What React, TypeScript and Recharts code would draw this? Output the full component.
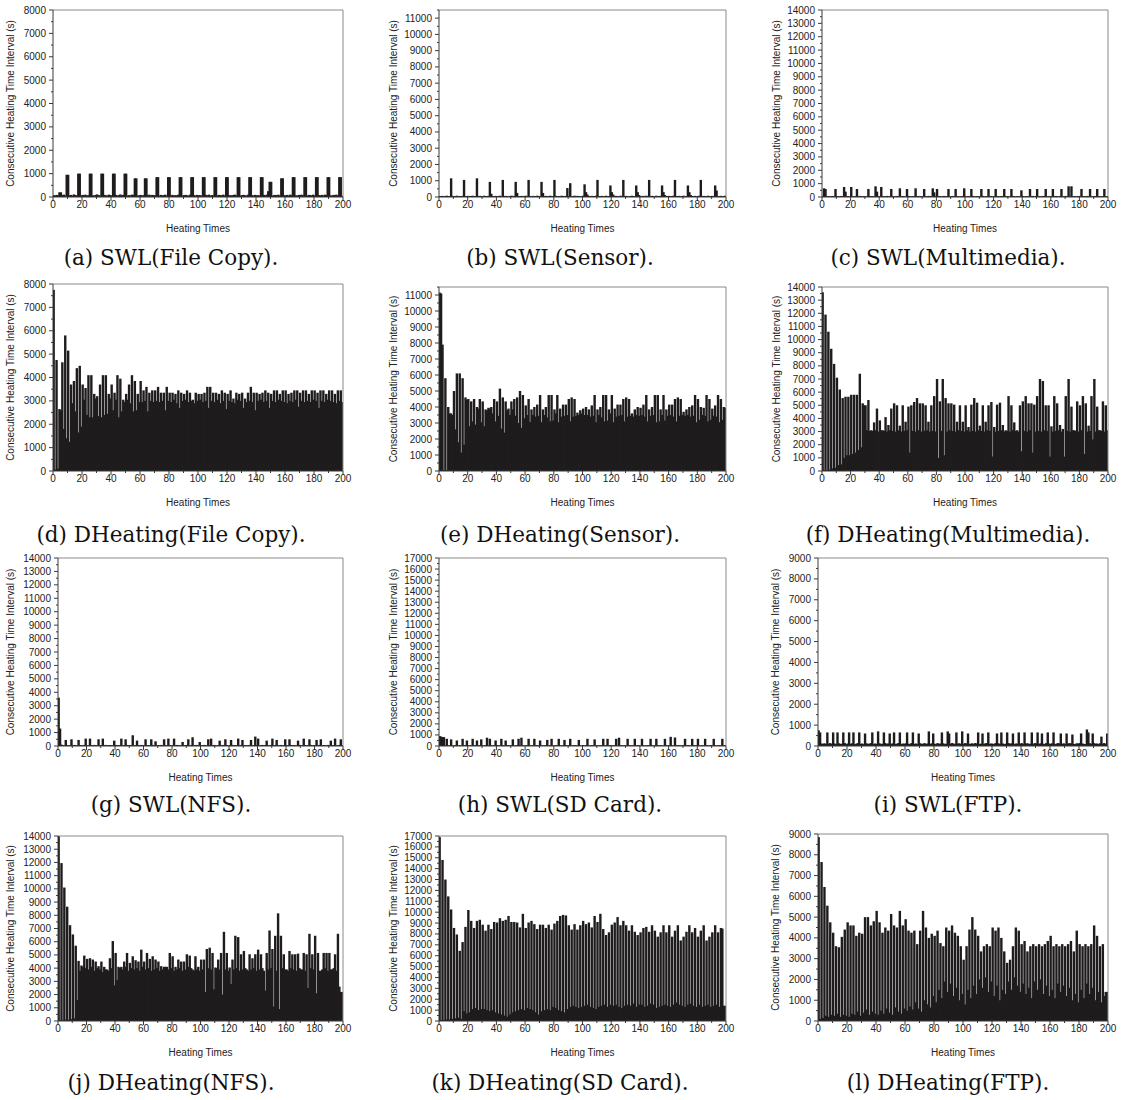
import React from "react";
import { BarChart, Bar, XAxis, YAxis, ReferenceLine } from "recharts";

const AXIS = "#3a3a3a";
const FRAME = "#8a8a8a";
const BAR = "#1f1c1d";
const TEXT = "#222222";
const FONT = "'Liberation Sans', Arial, sans-serif";
const SERIF = "'DejaVu Serif', serif";
const BAR_W = 2.4;

// x ticks (Heating Times)
const xTicks = [0, 10, 20, 30, 40, 50, 60, 70, 80, 90, 100, 110, 120, 130, 140, 150, 160, 170, 180, 190, 200];
const xLabelTicks = [0, 20, 40, 60, 80, 100, 120, 140, 160, 180, 200];

// y major ticks
const yMajor8000 = [0, 1000, 2000, 3000, 4000, 5000, 6000, 7000, 8000];
const yMajor9000 = [0, 1000, 2000, 3000, 4000, 5000, 6000, 7000, 8000, 9000];
const yMajor11000 = [0, 1000, 2000, 3000, 4000, 5000, 6000, 7000, 8000, 9000, 10000, 11000];
const yMajor14000 = [0, 1000, 2000, 3000, 4000, 5000, 6000, 7000, 8000, 9000, 10000, 11000, 12000, 13000, 14000];
const yMajor17000 = [0, 1000, 2000, 3000, 4000, 5000, 6000, 7000, 8000, 9000, 10000, 11000, 12000, 13000, 14000, 15000, 16000, 17000];

// ---------- SWL series (200 heatings each) ----------
const swlFileCopy = [
  80,60,90,70,200,200,80,100,60,950,950,70,90,60,110,80,70,1000,1000,60,
  90,70,100,60,80,1000,1000,70,60,90,110,80,60,1000,1000,90,70,60,100,80,
  70,1000,1000,90,60,80,110,70,90,1000,1000,60,80,70,100,90,800,800,60,70,
  90,60,80,800,800,70,100,60,90,80,70,850,850,60,90,70,80,100,60,850,
  850,70,90,60,80,70,100,850,850,60,80,90,70,60,100,850,850,80,60,90,
  70,80,60,850,850,90,70,100,60,80,70,850,850,60,90,80,70,100,60,850,
  850,70,80,60,90,100,70,850,850,60,80,90,70,60,100,850,850,80,60,90,
  70,80,60,850,850,90,70,100,250,650,650,60,80,90,70,100,60,800,800,80,
  70,90,60,100,80,850,850,70,60,90,80,100,70,850,850,60,90,80,70,100,
  60,850,850,80,70,90,60,100,80,850,850,70,60,90,80,100,70,850,850,60,
];

const swlSensor = [
  60,50,70,40,60,80,50,60,1150,70,50,60,80,40,60,50,70,1050,60,50,
  70,40,60,80,50,60,1150,50,70,60,40,80,60,50,70,930,200,60,50,70,
  40,60,80,50,1050,60,70,50,40,60,80,50,70,930,250,60,40,70,50,60,
  80,50,1050,60,40,70,60,50,80,60,40,930,250,50,70,60,40,80,50,60,
  1050,70,50,60,40,80,60,50,70,550,60,850,40,60,80,50,70,60,40,50,
  80,780,300,150,60,50,70,40,60,80,1050,50,60,70,40,60,80,50,60,710,
  300,150,50,70,60,40,80,50,1050,60,70,50,40,60,80,50,60,710,300,120,
  60,50,70,40,80,60,1050,50,70,60,40,80,50,60,70,710,300,120,50,60,
  70,40,60,80,1050,50,60,70,40,60,80,50,60,710,300,120,60,50,70,40,
  60,80,1050,50,70,60,40,80,50,60,70,40,710,400,60,50,70,40,60,80,
];

const swlMultimedia = [
  60,650,600,50,70,40,60,80,50,600,60,70,40,80,50,750,400,60,70,50,
  750,60,40,70,600,50,80,60,40,70,50,60,600,80,50,70,40,800,400,60,
  50,750,70,40,60,80,50,60,600,70,40,60,80,50,650,60,70,40,50,600,
  80,60,40,70,50,650,60,80,40,70,50,600,60,40,80,70,50,650,350,60,
  600,50,70,40,60,80,50,70,600,40,60,80,50,600,70,40,60,50,80,650,
  60,40,70,50,600,80,60,40,70,50,60,600,80,40,50,70,600,60,80,40,
  50,600,70,60,40,80,50,600,60,70,40,50,600,80,60,40,70,50,60,500,
  80,40,60,70,50,600,60,80,40,70,600,50,60,40,80,70,600,50,60,40,
  70,600,50,80,60,40,70,600,50,60,80,40,800,60,800,50,70,40,60,80,
  50,600,60,70,40,80,50,600,60,40,70,80,600,50,60,40,70,600,50,60,
];

const swlNFS = [
  3600,1300,100,60,50,450,70,40,60,500,50,80,60,40,450,70,50,60,80,550,
  40,60,550,70,50,80,60,40,500,70,60,550,50,80,40,60,70,50,60,400,
  80,50,60,70,550,40,60,500,80,50,70,60,800,40,60,400,70,50,80,60,
  40,500,70,60,50,500,80,40,350,60,70,50,80,40,500,60,50,550,70,40,
  60,550,50,80,70,40,60,300,50,70,80,500,40,60,650,50,70,80,40,300,
  60,50,80,70,40,500,60,550,50,80,70,40,60,400,50,80,60,500,70,40,
  60,450,80,50,70,40,550,60,80,450,50,70,40,60,80,450,50,60,700,70,
  550,40,60,80,50,70,400,60,40,80,550,50,70,450,60,40,80,50,70,500,
  60,40,500,80,50,70,60,40,400,80,60,50,550,70,40,60,500,80,50,70,
  60,450,40,80,500,50,70,60,40,80,60,400,50,70,550,40,60,80,500,60,
];

const swlSDCard = [
  900,850,800,800,60,650,50,70,600,40,60,80,500,50,70,40,650,60,80,500,
  50,70,40,650,60,80,500,50,70,600,40,60,80,750,50,650,70,40,60,500,
  80,50,60,650,70,40,500,60,80,50,70,600,40,60,80,650,50,750,70,40,
  60,80,650,50,70,40,650,60,80,50,500,70,40,60,80,550,50,70,650,40,
  60,80,50,650,70,40,60,550,80,50,70,650,40,60,80,50,70,550,60,40,
  80,50,70,650,60,40,80,50,600,70,60,40,80,50,650,60,70,650,40,80,
  50,60,70,650,40,750,80,50,60,70,40,650,80,60,50,70,650,40,80,60,
  50,650,70,40,60,80,50,650,70,40,60,650,80,50,70,40,60,650,80,50,
  70,830,60,40,770,80,50,70,60,40,80,650,50,70,60,40,650,80,50,70,
  650,60,40,80,50,650,70,60,40,80,50,650,70,40,60,80,50,650,60,70,
];

const swlFTP = [
  750,650,120,100,130,90,650,110,140,100,650,120,90,650,130,100,110,650,140,90,
  120,650,100,130,650,90,110,140,650,100,120,90,600,130,100,110,140,650,90,120,
  100,700,130,90,110,650,140,100,120,600,90,130,650,100,110,140,650,90,120,100,
  130,650,110,90,140,650,100,120,90,600,130,110,100,140,90,120,700,100,130,600,
  110,90,140,100,120,650,130,90,110,700,600,100,140,120,90,650,110,130,100,700,
  90,140,120,600,100,110,130,90,140,120,650,100,110,600,90,130,140,650,100,120,
  110,90,140,600,130,100,650,120,90,110,650,140,100,130,600,90,120,110,650,100,
  140,90,650,120,130,100,110,650,90,140,120,650,100,130,600,110,90,140,650,120,
  100,130,650,90,110,140,120,600,100,130,90,600,110,140,120,550,100,90,130,110,
  140,600,120,100,90,790,650,130,110,600,140,100,120,90,130,450,110,140,100,600,
];

// ---------- DHeating series: long interval (odd heatings) / short interval (even heatings) ----------
const dhFileCopyLong = [
  7750,4750,2650,4650,5800,5150,3700,3850,4400,4500,
  3700,3550,4100,4100,3300,3200,3700,4100,4100,3300,
  3700,3350,4100,3950,3050,3300,3700,4100,3850,3300,
  3850,3450,3600,3350,3450,3450,3600,3350,3350,3600,
  3350,3350,3300,3450,3350,3300,3450,3350,3050,3350,
  3300,3300,3350,3600,3600,3350,3350,3300,3450,3350,
  3300,3450,3100,3350,3300,3350,3100,3350,3600,3350,
  3350,3300,3350,3450,3350,3300,3450,3450,3300,3450,
  3450,3300,3350,3450,3450,3350,3450,3450,3300,3450,
  3450,3350,3450,3450,3300,3450,3450,3300,3450,3450,
];
const dhFileCopyShort = [
  60,100,2600,1800,1400,1250,2900,2550,1650,1900,
  3050,2400,2300,2300,3100,2350,2300,2400,2450,3100,
  2600,3050,2300,2550,2950,3050,2900,2550,2600,2950,
  2950,3000,2550,3000,2950,3000,2950,3000,2600,3000,
  2950,3050,2900,2700,3000,3050,2950,3000,2900,3000,
  3050,2950,3000,2700,3000,2950,3050,2900,3000,2650,
  3000,2950,2900,3050,3000,2700,2950,3000,2950,2600,
  3000,3050,2950,3000,2700,3000,2950,3050,3000,2950,
  2900,3000,2950,3050,2750,3000,2950,3000,2950,3050,
  3000,2700,3000,2950,3050,3000,2950,2900,3000,2950,
];

const dhSensorLong = [
  11150,7900,5800,4000,3600,5000,6100,6100,5800,4600,
  4500,4350,4500,4000,4500,4350,3850,3950,4000,4500,
  4350,5150,4600,4350,3900,4350,4500,4600,5000,4750,
  4100,4500,3850,4000,4150,4750,3850,4000,4750,4750,
  3850,4750,3900,4150,4150,4500,4600,4500,3650,3800,
  3900,4000,3850,4100,4750,3850,4000,4750,4750,3850,
  4750,3900,4150,4150,4500,4600,4500,3600,3850,4000,
  3950,4150,4750,3850,4000,4750,4750,3850,4750,3850,
  4150,4150,4500,4600,4500,3700,3850,4000,4100,4750,
  4500,4000,3950,4750,4500,3900,4100,4750,4500,4000,
];
const dhSensorShort = [
  11100,50,50,3600,3500,2600,1800,1150,1650,4450,
  2800,3100,2900,3900,3050,2800,3800,3900,3600,3100,
  3450,2650,2400,3800,3500,3850,3450,3000,2700,3300,
  3500,3050,3500,3400,3450,3050,3500,3350,3100,3150,
  3600,3050,3400,3450,3500,3100,3400,3450,3500,3600,
  3500,3500,3400,3450,3050,3500,3350,3100,3150,3600,
  3050,3400,3450,3500,3100,3400,3450,3400,3500,3450,
  3500,3400,3100,3450,3500,3050,3100,3500,3150,3450,
  3500,3400,3100,3450,3500,3450,3500,3400,3450,3050,
  3200,3500,3450,3100,3200,3450,3400,3050,3200,3950,
];

const dhMultimediaLong = [
  13600,11900,10600,9300,8150,7100,6200,5550,5650,5650,
  5800,5800,5800,7400,5150,5000,5400,3100,3700,4750,
  3850,3100,4100,3500,4750,5150,5000,3450,5000,3750,
  4900,5000,5250,5550,5150,5150,5000,3750,5000,5700,
  7000,5300,7000,5550,5150,5150,5050,3750,5000,3750,
  5000,3350,5050,5550,5200,3450,5000,3750,5000,5250,
  3350,5050,5200,3500,3100,5700,5000,3700,3100,5000,
  5300,5700,5150,5150,5050,5700,7000,6850,5000,5000,
  3400,5700,5150,3500,3200,5700,7000,4900,3100,5300,
  5000,5700,5150,3450,5700,7000,4900,3100,5300,5000,
];
const dhMultimediaShort = [
  50,50,100,200,250,450,500,1000,1200,1200,
  1300,1400,1600,1800,5000,3100,3050,3050,3100,3000,
  3100,3050,3000,3100,3050,3000,3100,3000,3050,3100,
  1400,3050,3000,3100,3000,3050,3100,3000,3050,3000,
  1000,3050,1200,3000,3100,3050,3000,3100,3050,3000,
  3100,3000,3050,3000,3100,3050,3000,3100,3050,1100,
  3000,3050,3100,3000,3050,3000,3100,3050,3000,1500,
  3050,3000,3100,1400,3000,3050,3000,3100,3050,1100,
  3000,3050,3100,3000,1100,3050,3000,3100,3050,3000,
  3100,1300,3000,3050,2400,3000,3100,3050,3000,3100,
];

const dhNFSLong = [
  14000,11950,10100,8650,7250,6550,5700,4550,4200,4950,
  4700,4750,4650,4500,4150,4500,4100,3900,4750,6050,
  5150,4100,4100,4500,5150,4400,4900,4600,4500,5400,
  4500,5150,4700,4900,4650,4500,4150,4100,4100,5150,
  4900,4100,4650,4500,4500,5050,4950,3900,4900,4100,
  4650,4650,5450,5550,5150,4050,4650,5150,6750,5150,
  4050,4650,6450,6350,5050,5300,3900,5050,4750,5050,
  5400,5050,3800,5150,6850,5450,6450,8150,6450,5050,
  3900,5300,5050,5050,5100,3900,5150,5050,6600,5050,
  6450,5150,3800,5150,5150,5150,3900,5050,6600,2200,
];
const dhNFSShort = [
  50,50,100,100,150,200,1600,3800,4100,4000,
  3900,4100,3800,4000,3900,3700,3900,3800,4000,2700,
  3100,4000,3900,4100,3800,4000,3900,4000,3800,4100,
  3900,4000,3800,3900,4000,3800,3900,4100,3900,4000,
  3800,3900,4000,3800,3900,4100,4000,3800,3900,3800,
  3900,2200,4000,3900,2400,4000,3900,2000,3900,3800,
  2800,3900,4000,3800,3900,4000,3800,3900,4000,3800,
  3900,4000,2300,3900,4000,1100,3800,900,4000,3900,
  3800,4000,3900,3800,4000,3900,3800,2500,4000,3900,
  2100,3800,3900,4000,3800,3900,4000,3800,2600,2200,
];

const dhSDCardLong = [
  16900,14800,13000,11450,10250,8550,7950,6450,7250,8650,
  10200,9200,8550,9200,9300,8850,8300,8850,8450,9100,
  9050,9450,9200,9300,9650,9100,9100,9050,8600,9850,
  8550,9050,9200,8900,8450,8850,8850,8550,8850,8400,
  8950,9200,9650,9750,9700,8800,8400,8900,8400,8800,
  9200,8900,9050,8600,9650,9100,9850,8450,7900,8150,
  8850,9050,9550,8800,9200,8800,8300,8800,8200,7900,
  8150,8550,8650,8200,8800,8300,7750,8150,8800,8150,
  8800,7750,8300,8800,7400,7750,8200,8800,8150,8550,
  7750,8300,8800,7400,7750,8150,8800,8150,8550,1400,
];
const dhSDCardShort = [
  100,100,150,150,200,250,300,200,900,700,
  800,1100,1200,1000,1100,1100,1000,900,1000,800,
  700,600,500,400,600,800,900,1000,1100,1000,
  1200,1100,1000,800,600,900,1000,1100,1000,1300,
  1200,1000,900,800,1100,1300,1400,1300,1200,1300,
  1400,1500,1300,1200,1100,1300,1400,1500,1300,1500,
  1400,1500,1300,1200,1400,1500,1400,1600,1300,1500,
  1500,1300,1400,1600,1500,1200,1300,1400,1500,1400,
  1300,1500,1700,1500,1400,1300,1500,1600,1400,1300,
  1500,1300,1400,1500,1300,1400,1500,1300,8500,1400,
];

const dhFTPLong = [
  8850,7650,6450,5550,4750,4250,3600,3550,4050,4400,
  4750,4600,4600,4100,4250,4200,5000,5000,4600,4800,
  5300,4750,4250,4500,4350,5150,4600,4500,5300,4600,
  4900,4350,4250,4350,3700,4350,5300,4500,4000,4200,
  4100,4350,3750,3600,4500,4350,4600,4250,4100,3600,
  2950,3600,4400,5000,4400,4100,3350,3600,3700,3600,
  4500,4350,4500,4000,3350,2800,2950,3600,4500,4350,
  3700,3850,3350,3600,3700,3600,3700,3600,3700,3850,
  4100,3600,3700,3600,3700,3600,3700,3850,3350,4350,
  3700,3600,3700,3600,3700,4600,4100,3600,3700,1400,
];
const dhFTPShort = [
  100,150,250,200,300,250,350,200,300,250,
  200,350,300,450,250,400,550,300,450,350,
  300,500,350,600,400,300,650,450,350,600,
  500,700,550,900,600,450,1000,800,650,1200,
  900,1500,1100,1900,1400,1800,1200,1600,1000,1300,
  800,1500,1100,1700,1300,2000,1600,2100,1400,1900,
  1200,1700,1000,1500,1300,1900,1500,2100,1700,1400,
  1800,1300,1600,1100,1900,1500,2000,1300,1700,1200,
  1500,1100,1800,1400,1700,1200,1600,1000,1300,900,
  1500,1100,1800,1300,1600,1000,1400,900,1200,1400,
];

const interleave = (longs: number[], shorts: number[]) =>
  longs.flatMap((v, i) => [v, shorts[i]]);

type PanelCfg = {
  caption: string;
  values: number[];
  yMajor: number[];
  yMax: number;
  L: number; R: number; T: number; B: number;
  labelX: number;
  capX: number; capY: number;
};

const panels: PanelCfg[] = [
  { caption: "(a) SWL(File Copy).", values: swlFileCopy, yMajor: yMajor8000, yMax: 8000, L: 53, R: 343, T: 10, B: 197, labelX: 10, capX: 171, capY: 258 },
  { caption: "(b) SWL(Sensor).", values: swlSensor, yMajor: yMajor11000, yMax: 11500, L: 439, R: 726, T: 10, B: 197, labelX: 393, capX: 560, capY: 258 },
  { caption: "(c) SWL(Multimedia).", values: swlMultimedia, yMajor: yMajor14000, yMax: 14000, L: 822, R: 1108, T: 10, B: 197, labelX: 776, capX: 948, capY: 258 },
  { caption: "(d) DHeating(File Copy).", values: interleave(dhFileCopyLong, dhFileCopyShort), yMajor: yMajor8000, yMax: 8000, L: 53, R: 343, T: 284, B: 471, labelX: 10, capX: 171, capY: 535 },
  { caption: "(e) DHeating(Sensor).", values: interleave(dhSensorLong, dhSensorShort), yMajor: yMajor11000, yMax: 11500, L: 439, R: 726, T: 287, B: 471, labelX: 393, capX: 560, capY: 535 },
  { caption: "(f) DHeating(Multimedia).", values: interleave(dhMultimediaLong, dhMultimediaShort), yMajor: yMajor14000, yMax: 14000, L: 822, R: 1108, T: 287, B: 471, labelX: 776, capX: 948, capY: 535 },
  { caption: "(g) SWL(NFS).", values: swlNFS, yMajor: yMajor14000, yMax: 14000, L: 58, R: 343, T: 558, B: 746, labelX: 10, capX: 171, capY: 805 },
  { caption: "(h) SWL(SD Card).", values: swlSDCard, yMajor: yMajor17000, yMax: 17000, L: 439, R: 726, T: 558, B: 746, labelX: 393, capX: 560, capY: 805 },
  { caption: "(i) SWL(FTP).", values: swlFTP, yMajor: yMajor9000, yMax: 9000, L: 818, R: 1108, T: 558, B: 746, labelX: 775, capX: 948, capY: 805 },
  { caption: "(j) DHeating(NFS).", values: interleave(dhNFSLong, dhNFSShort), yMajor: yMajor14000, yMax: 14000, L: 58, R: 343, T: 836, B: 1021, labelX: 10, capX: 171, capY: 1083 },
  { caption: "(k) DHeating(SD Card).", values: interleave(dhSDCardLong, dhSDCardShort), yMajor: yMajor17000, yMax: 17000, L: 439, R: 726, T: 836, B: 1021, labelX: 393, capX: 560, capY: 1083 },
  { caption: "(l) DHeating(FTP).", values: interleave(dhFTPLong, dhFTPShort), yMajor: yMajor9000, yMax: 9000, L: 818, R: 1108, T: 834, B: 1021, labelX: 775, capX: 948, capY: 1083 },
];

const XTick = (props: any) => {
  const { x, y, payload } = props;
  const v = payload.value;
  const major = xLabelTicks.includes(v);
  return (
    <g>
      <line x1={x} x2={x} y1={y} y2={y + (major ? 4 : 2)} stroke={AXIS} strokeWidth={1} />
      {major && (
        <text x={x} y={y + 10.5} textAnchor="middle" fontSize={10} fontFamily={FONT} fill={TEXT}>
          {v}
        </text>
      )}
    </g>
  );
};

const makeYTick = (labelMax: number) => (props: any) => {
  const { x, y, payload } = props;
  const v = payload.value;
  const major = v % 1000 === 0 && v <= labelMax;
  return (
    <g>
      <line x1={x - (major ? 4 : 2)} x2={x} y1={y} y2={y} stroke={AXIS} strokeWidth={1} />
      {major && (
        <text x={x - 7} y={y} dy="0.35em" textAnchor="end" fontSize={10} fontFamily={FONT} fill={TEXT}>
          {v}
        </text>
      )}
    </g>
  );
};

const BarShape = (props: any) => {
  const { x, y, width, height } = props;
  if (!height || height <= 0) return <g />;
  return <rect x={x + width / 2 - BAR_W / 2} y={y} width={BAR_W} height={height} fill={BAR} />;
};

function Panel({ cfg }: { cfg: PanelCfg }) {
  const left = cfg.labelX - 8;
  const top = cfg.T - 6;
  const rightPad = 13;
  const width = cfg.R - left + rightPad;
  const height = cfg.B - top + 45;
  const data = cfg.values.map((v, i) => ({ x: i + 0.5, v }));
  const labelMax = cfg.yMajor[cfg.yMajor.length - 1];
  const yTicks = cfg.yMajor.flatMap((m) => [m, m + 500]).filter((t) => t <= cfg.yMax);
  return (
    <div style={{ position: "absolute", left, top, width, height }}>
      <BarChart width={width} height={height} data={data} margin={{ top: 6, right: rightPad, bottom: 0, left: 0 }}>
        <XAxis
          dataKey="x"
          type="number"
          domain={[0, 200]}
          ticks={xTicks}
          interval={0}
          tickSize={0}
          tickMargin={0}
          tickLine={false}
          allowDataOverflow
          axisLine={{ stroke: AXIS }}
          height={45}
          tick={(p: any) => <XTick {...p} />}
          label={{ value: "Heating Times", position: "insideBottom", offset: 10.5, style: { fontSize: 10, fontFamily: FONT, fill: TEXT } }}
        />
        <YAxis
          type="number"
          domain={[0, cfg.yMax]}
          ticks={yTicks}
          interval={0}
          tickSize={0}
          tickMargin={0}
          tickLine={false}
          allowDataOverflow
          axisLine={{ stroke: AXIS }}
          width={cfg.L - left}
          tick={makeYTick(labelMax)}
          label={{
            value: "Consecutive Heating Time Interval (s)",
            angle: -90,
            position: "insideLeft",
            offset: 8,
            style: { textAnchor: "middle", fontSize: 10, fontFamily: FONT, fill: TEXT },
          }}
        />
        <Bar dataKey="v" fill={BAR} barSize={2} shape={(p: any) => <BarShape {...p} />} isAnimationActive={false} />
        <ReferenceLine y={cfg.yMax} stroke={FRAME} strokeWidth={1} />
        <ReferenceLine x={200} stroke={FRAME} strokeWidth={1} />
      </BarChart>
    </div>
  );
}

export default function App() {
  return (
    <div style={{ position: "absolute", left: 0, top: 0, width: 1121, height: 1100, background: "#fff", overflow: "hidden" }}>
      {panels.map((p) => (
        <React.Fragment key={p.caption}>
          <Panel cfg={p} />
          <div
            style={{
              position: "absolute",
              left: p.capX - 200,
              top: p.capY - 15,
              width: 400,
              height: 30,
              lineHeight: "30px",
              textAlign: "center",
              fontFamily: SERIF,
              fontSize: 21.5,
              color: "#111",
              whiteSpace: "nowrap",
            }}
          >
            {p.caption}
          </div>
        </React.Fragment>
      ))}
    </div>
  );
}
